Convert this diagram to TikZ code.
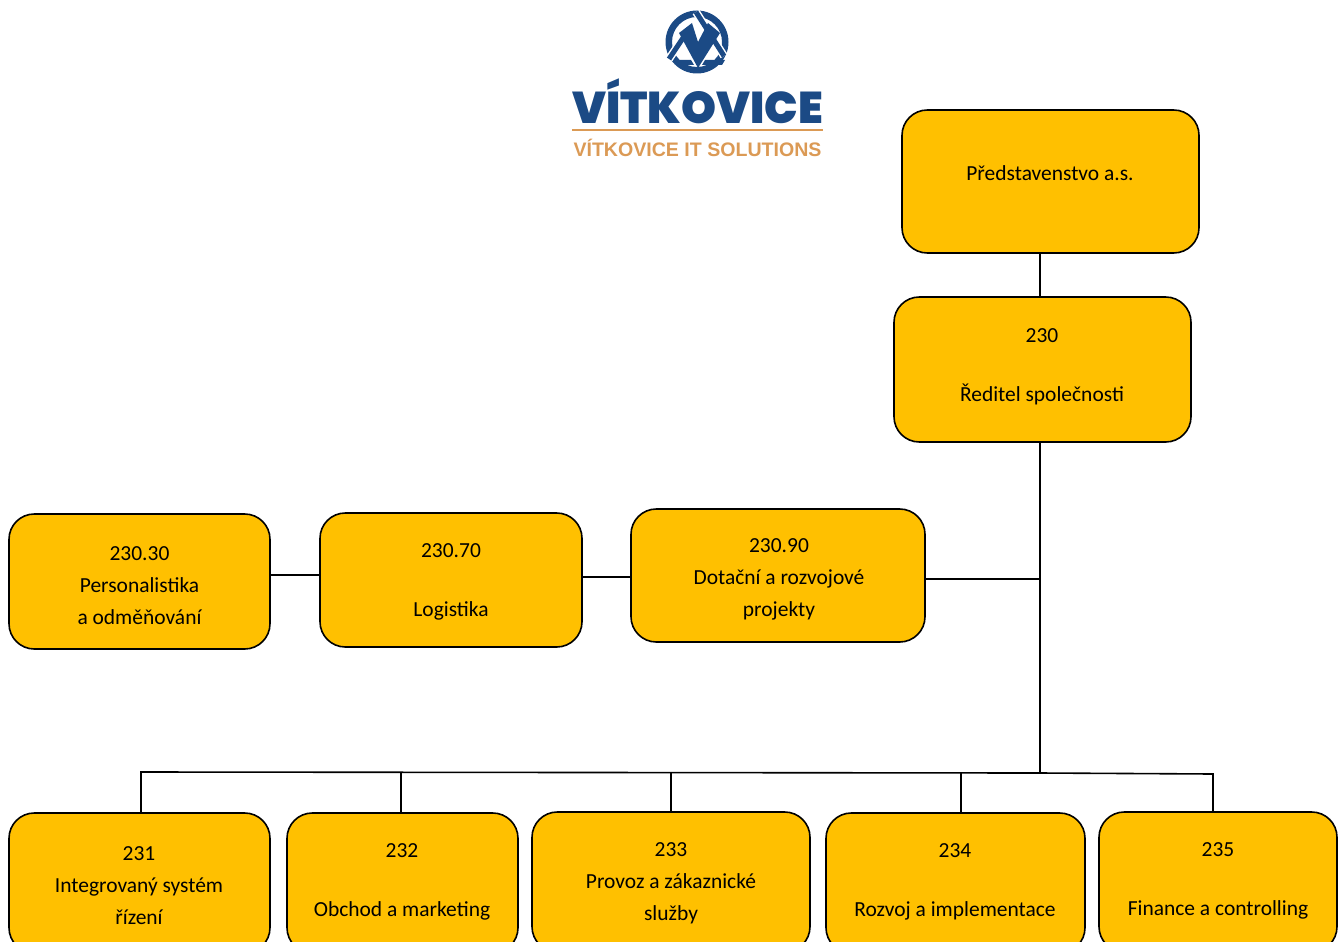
\documentclass[tikz,border=0pt]{standalone}
\usepackage{fontspec}
\setmainfont{Carlito}
\newfontfamily\logofont{Poppins Black}
\newfontfamily\logosub{Liberation Sans Bold}
\definecolor{boxfill}{HTML}{FFC000}
\definecolor{logoblue}{HTML}{1B4A85}
\definecolor{logoorange}{HTML}{DB9A55}
\tikzset{
  x=0.75pt,y=-0.75pt,
  orgbox/.style={draw=black,fill=boxfill,line width=1.2pt,rounded corners=19pt,inner sep=0pt},
  boxtext/.style={font=\fontsize{16.1pt}{24pt}\selectfont,align=center,inner sep=0pt,text=black},
  link/.style={draw=black,line width=1.2pt},
  band/.style={logoblue,line width=3.8pt,preaction={draw=white,line width=6pt}},
}
\begin{document}
\begin{tikzpicture}
\useasboundingbox (0,0) rectangle (1342,942);
\clip (0,0) rectangle (1342,942);
% connector junctions
\coordinate (trunk) at (1040,773);
\coordinate (j90) at (1040,579);
\coordinate (busL) at (141,772);
\coordinate (busR) at (1213,774);
\coordinate (d232) at (401,773);
\coordinate (d233) at (671,773);
\coordinate (d234) at (961,773);
% boxes
\node[orgbox,minimum width=297pt*.75,minimum height=143pt*.75] (pred) at (1050.5,181.5) {};
\node[orgbox,minimum width=297pt*.75,minimum height=145pt*.75] (red) at (1042.5,369.5) {};
\node[orgbox,minimum width=294pt*.75,minimum height=133pt*.75] (b90) at (778,575.5) {};
\node[orgbox,minimum width=262pt*.75,minimum height=134pt*.75] (b70) at (451,580) {};
\node[orgbox,minimum width=261pt*.75,minimum height=135pt*.75] (b30) at (139.5,581.5) {};
\node[orgbox,minimum width=261pt*.75,minimum height=140pt*.75] (b231) at (139.5,883) {};
\node[orgbox,minimum width=231pt*.75,minimum height=140pt*.75] (b232) at (402.5,883) {};
\node[orgbox,minimum width=278pt*.75,minimum height=140pt*.75] (b233) at (671,882) {};
\node[orgbox,minimum width=259pt*.75,minimum height=140pt*.75] (b234) at (955.5,883) {};
\node[orgbox,minimum width=238pt*.75,minimum height=140pt*.75] (b235) at (1218,882) {};
% links
\draw[link] (trunk |- pred.south) -- (trunk |- red.north);
\draw[link] (trunk |- red.south) -- (trunk);
\draw[link] (j90) -- (b90.east |- j90);
\draw[link] (b90.west |- 0,577) -- (b70.east |- 0,577);
\draw[link] (b70.west |- 0,575) -- (b30.east |- 0,575);
\draw[link] (busL |- b231.north) -- (busL) -- (trunk) -- (busR) -- (busR |- b235.north);
\draw[link] (d232) -- (d232 |- b232.north);
\draw[link] (d233) -- (d233 |- b233.north);
\draw[link] (d234) -- (d234 |- b234.north);
% texts
\node[boxtext] (tpred) at (1050,173) {Představenstvo a.s.};
\node[boxtext] (tred) at (1042,366.5) {230\\[20pt]Ředitel společnosti};
\node[boxtext] (t90) at (779,579.5) {230.90\\Dotační a rozvojové\\projekty};
\node[boxtext] (t70) at (451,582) {230.70\\[20pt]Logistika};
\node[boxtext] (t30) at (139.5,586) {230.30\\Personalistika\\a odměňování};
\node[boxtext] (t231) at (139,885.5) {231\\Integrovaný systém\\řízení};
\node[boxtext] (t232) at (402,882) {232\\[20pt]Obchod a marketing};
\node[boxtext] (t233) at (671,883.5) {233\\Provoz a zákaznické\\služby};
\node[boxtext] (t234) at (955,882) {234\\[20pt]Rozvoj a implementace};
\node[boxtext] (t235) at (1218,881) {235\\[20pt]Finance a controlling};
% logo
\fill[logoblue,even odd rule] (697,42) circle (31.5) (697,42) circle (25);
\draw[band] (696,12) -- (724,56);
\draw[band] (669,59) -- (687,32);
\fill[logoblue] (679,33) -- (692,23) -- (698,42) -- (708,23) -- (720,33) -- (698,68) -- cycle;
\fill[logoblue] (675,60) -- (691,60) -- (694,65) -- (677,65) -- cycle;
\fill[logoblue] (705,60) -- (725,60) -- (722,65) -- (702,65) -- cycle;
\node[inner sep=0pt,text=logoblue] (logo1) at (697.5,101) {\resizebox{188pt}{!}{\logofont VÍTKOVICE}};
\draw[logoorange,line width=1pt] (572,130) -- (823,130);
\node[inner sep=0pt,text=logoorange] (logo2) at (697.5,148) {\resizebox{186pt}{!}{\logosub VÍTKOVICE IT SOLUTIONS}};
\end{tikzpicture}
\end{document}
